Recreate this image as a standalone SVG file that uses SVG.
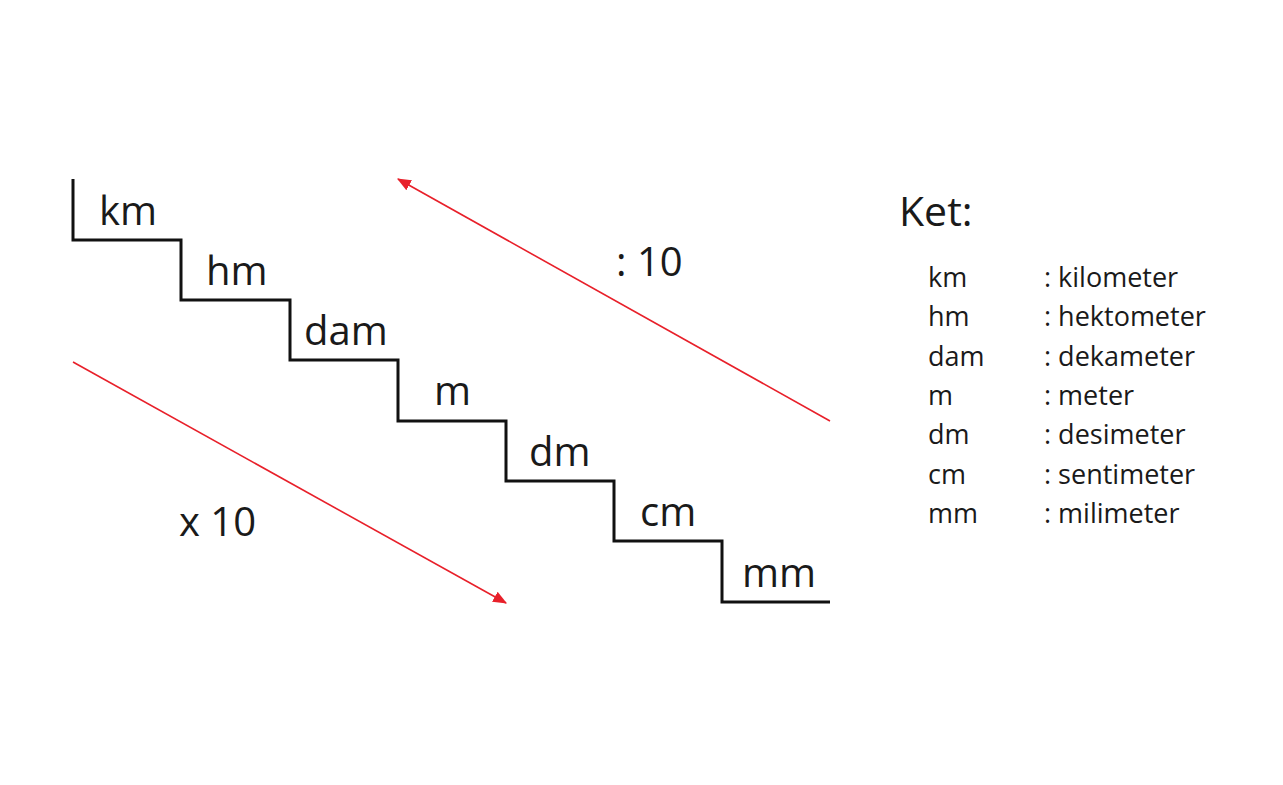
<svg xmlns="http://www.w3.org/2000/svg" width="1283" height="785" viewBox="0 0 1283 785">
<style>
.t{font-family:"Open Sans","Noto Sans",sans-serif;fill:#1a1a1a}
.big{font-size:40px}
.leg{font-size:27px}
.stair{fill:none;stroke:#111;stroke-width:3;stroke-linejoin:miter}
.arr{stroke:#e8202a;stroke-width:1.6;fill:none}
</style>
<defs>
<marker id="ah" viewBox="0 0 12 12" refX="11" refY="6" markerWidth="14" markerHeight="14" markerUnits="userSpaceOnUse" orient="auto">
<path d="M0,1 L12,6 L0,11 z" fill="#e8202a"/>
</marker>
</defs>
<rect width="1283" height="785" fill="#fff"/>
<g id="staircase">
<path class="stair" d="M73,179 V240 H181 V300 H290 V360 H398 V421 H506 V481 H614 V541 H722 V602 H830"/>
</g>
<g id="step-km"><text class="t big" x="99" y="225">km</text></g>
<g id="step-hm"><text class="t big" x="206" y="285">hm</text></g>
<g id="step-dam"><text class="t big" x="304" y="345">dam</text></g>
<g id="step-m"><text class="t big" x="434" y="405">m</text></g>
<g id="step-dm"><text class="t big" x="529" y="466">dm</text></g>
<g id="step-cm"><text class="t big" x="640" y="526">cm</text></g>
<g id="step-mm"><text class="t big" x="742" y="587">mm</text></g>
<g id="connectors">
<line class="arr" x1="830" y1="421" x2="398" y2="179" marker-end="url(#ah)"/>
<line class="arr" x1="73" y1="362" x2="506" y2="603" marker-end="url(#ah)"/>
</g>
<g id="label-div"><text class="t big" x="616" y="276">: 10</text></g>
<g id="label-mul"><text class="t big" x="179" y="536">x 10</text></g>
<g id="legend">
<text class="t" x="899" y="226" style="font-size:41px">Ket:</text>
<text class="t leg" x="928" y="287">km</text><text class="t leg" x="1044" y="287">: kilometer</text>
<text class="t leg" x="928" y="326">hm</text><text class="t leg" x="1044" y="326">: hektometer</text>
<text class="t leg" x="928" y="366">dam</text><text class="t leg" x="1044" y="366">: dekameter</text>
<text class="t leg" x="928" y="405">m</text><text class="t leg" x="1044" y="405">: meter</text>
<text class="t leg" x="928" y="444">dm</text><text class="t leg" x="1044" y="444">: desimeter</text>
<text class="t leg" x="928" y="484">cm</text><text class="t leg" x="1044" y="484">: sentimeter</text>
<text class="t leg" x="928" y="523">mm</text><text class="t leg" x="1044" y="523">: milimeter</text>
</g>
</svg>
